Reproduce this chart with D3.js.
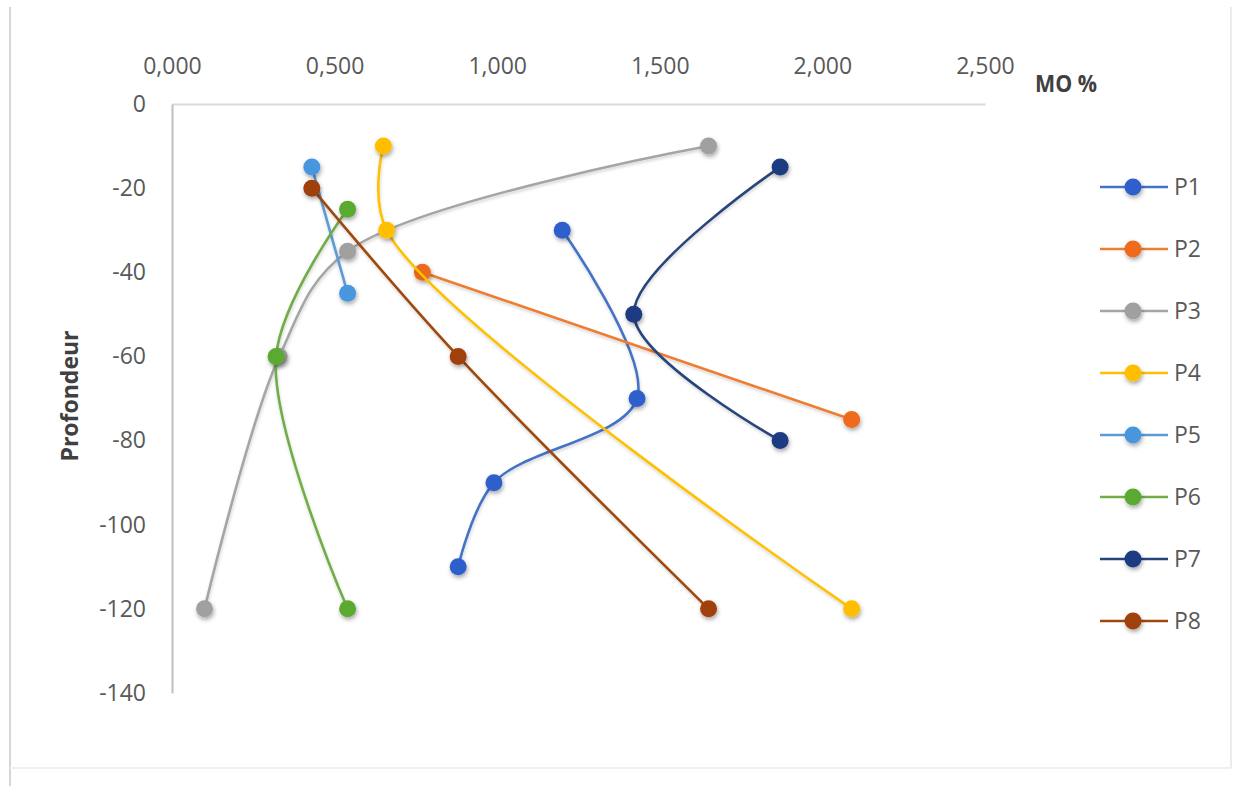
<!DOCTYPE html>
<html>
<head>
<meta charset="utf-8">
<script src="https://cdn.jsdelivr.net/npm/d3@7"></script>
<style>
  html, body { margin: 0; padding: 0; background: #ffffff; }
  svg { display: block; }
  text { font-family: "Open Sans", "Liberation Sans", sans-serif; }
</style>
</head>
<body>
<svg id="chart" width="1235" height="786"></svg>
<script>
// Organic matter (MO %) against depth for eight soil profiles
const xTicks = [0, 0.5, 1.0, 1.5, 2.0, 2.5];
const yTicks = [0, -20, -40, -60, -80, -100, -120, -140];

const P1 = [[1.20, -30], [1.43, -70], [0.99, -90], [0.88, -110]];
const P2 = [[0.77, -40], [2.09, -75]];
const P3 = [[1.65, -10], [0.54, -35], [0.33, -60], [0.10, -120]];
const P4 = [[0.65, -10], [0.66, -30], [2.09, -120]];
const P5 = [[0.43, -15], [0.54, -45]];
const P6 = [[0.54, -25], [0.32, -60], [0.54, -120]];
const P7 = [[1.87, -15], [1.42, -50], [1.87, -80]];
const P8 = [[0.43, -20], [0.88, -60], [1.65, -120]];

const seriesNames = ["P1", "P2", "P3", "P4", "P5", "P6", "P7", "P8"];
const seriesData = [P1, P2, P3, P4, P5, P6, P7, P8];
const lineColors = ["#4472C4", "#ED7D31", "#A5A5A5", "#FFC000", "#5B9BD5", "#70AD47", "#264478", "#9E480E"];
const dotColors  = ["#2F5FCB", "#EE6A1C", "#A0A0A0", "#FFBF00", "#4696DE", "#5AAA32", "#1C3A80", "#A0400A"];

const svg = d3.select("#chart");

// soft drop shadow used by the markers and lines
const defs = svg.append("defs");
const f = defs.append("filter").attr("id", "shadow")
  .attr("x", "-50%").attr("y", "-50%").attr("width", "200%").attr("height", "200%");
f.append("feDropShadow").attr("dx", 1).attr("dy", 2.5).attr("stdDeviation", 2)
  .attr("flood-color", "#000").attr("flood-opacity", 0.35);
const fl = defs.append("filter").attr("id", "lshadow")
  .attr("x", "-10%").attr("y", "-10%").attr("width", "120%").attr("height", "120%");
fl.append("feDropShadow").attr("dx", 0.5).attr("dy", 2).attr("stdDeviation", 1.5)
  .attr("flood-color", "#000").attr("flood-opacity", 0.18);

// chart frame: visible left edge, faint right and bottom edges
svg.append("line").attr("x1", 10).attr("x2", 10).attr("y1", 7).attr("y2", 786)
  .attr("stroke", "#d6d6d6").attr("stroke-width", 2);
svg.append("line").attr("x1", 1231).attr("x2", 1231).attr("y1", 7).attr("y2", 768)
  .attr("stroke", "#ececec").attr("stroke-width", 2);
svg.append("line").attr("x1", 10).attr("x2", 1231).attr("y1", 768).attr("y2", 768)
  .attr("stroke", "#f0f0f0").attr("stroke-width", 2);

const x = d3.scaleLinear().domain([0, 2.5]).range([172, 985]);
const y = d3.scaleLinear().domain([0, -140]).range([104, 693]);

// top axis (MO %)
const xAxis = svg.append("g").attr("transform", `translate(0,${y(0)})`)
  .call(d3.axisTop(x).tickValues(xTicks).tickSize(0).tickPadding(30)
    .tickFormat(d => d3.format(".3f")(d).replace(".", ",")));
xAxis.select(".domain").attr("stroke", "#d9d9d9").attr("stroke-width", 2);
xAxis.selectAll("text").attr("fill", "#595959").attr("font-size", 23);

// left axis (depth)
const yAxis = svg.append("g").attr("transform", `translate(${x(0)},0)`)
  .call(d3.axisLeft(y).tickValues(yTicks).tickSize(0).tickPadding(26)
    .tickFormat(d => d3.format("d")(d).replace("−", "-")));
yAxis.select(".domain").attr("stroke", "#bfbfbf").attr("stroke-width", 2);
yAxis.selectAll("text").attr("fill", "#595959").attr("font-size", 23);

// axis titles
svg.append("text").attr("x", 1066).attr("y", 92).attr("text-anchor", "middle")
  .attr("font-size", 24).attr("font-weight", "bold").attr("fill", "#404040")
  .attr("textLength", 62).attr("lengthAdjust", "spacingAndGlyphs").text("MO %");
svg.append("text").attr("transform", "translate(78,396) rotate(-90)")
  .attr("text-anchor", "middle").attr("font-size", 23).attr("font-weight", "bold")
  .attr("fill", "#404040").text("Profondeur");

// series
const line = d3.line().x(d => x(d[0])).y(d => y(d[1])).curve(d3.curveCatmullRom.alpha(0.5));

const plot = svg.append("g");
seriesData.forEach((data, i) => {
  const g = plot.append("g");
  g.append("path").datum(data).attr("d", line).attr("fill", "none")
    .attr("stroke", lineColors[i]).attr("stroke-width", 2.6).attr("filter", "url(#lshadow)");
  g.selectAll("circle").data(data).join("circle")
    .attr("cx", d => x(d[0])).attr("cy", d => y(d[1])).attr("r", 8.5)
    .attr("fill", dotColors[i]).attr("filter", "url(#shadow)");
});

// legend
const legend = svg.append("g");
seriesNames.forEach((name, i) => {
  const ly = 187 + i * 62;
  const g = legend.append("g").attr("transform", `translate(0,${ly})`);
  g.append("line").attr("x1", 1100).attr("x2", 1168).attr("y1", 0).attr("y2", 0)
    .attr("stroke", lineColors[i]).attr("stroke-width", 2.6);
  g.append("circle").attr("cx", 1133).attr("cy", 0).attr("r", 8.5)
    .attr("fill", dotColors[i]).attr("filter", "url(#shadow)");
  g.append("text").attr("x", 1174).attr("y", 0).attr("dy", "0.36em")
    .attr("font-size", 23).attr("fill", "#595959").text(name);
});
</script>
</body>
</html>
